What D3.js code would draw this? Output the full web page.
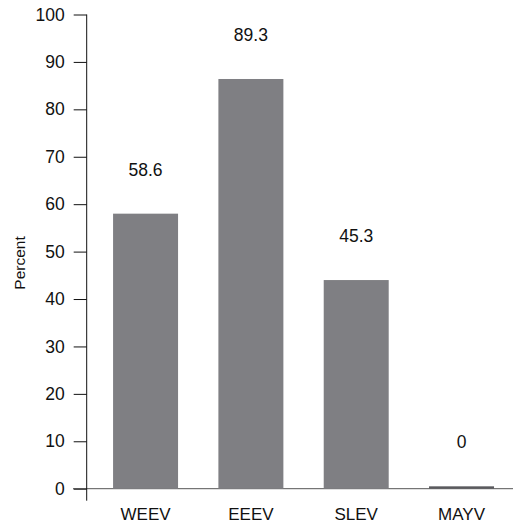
<!DOCTYPE html>
<html><head><meta charset="utf-8">
<script src="https://cdn.jsdelivr.net/npm/d3@7"></script>
<style>body{margin:0;background:#fff}text{font-family:"Liberation Sans",Arial,sans-serif;fill:#111}</style>
</head><body><svg id="c" width="513" height="524"></svg>
<script>
const categories = ["WEEV", "EEEV", "SLEV", "MAYV"];
const barValues = [58.0, 86.4, 44.0, 0.5];
const labelTexts = ["58.6", "89.3", "45.3", "0"];
const yTicks = [0, 10, 20, 30, 40, 50, 60, 70, 80, 90, 100];

const svg = d3.select("#c");
const y = d3.scaleLinear().domain([0, 100]).range([488.7, 14.5]);
const x = d3.scaleBand().domain(categories).range([92.9, 514.2]).paddingInner(0.383).paddingOuter(0.1915);
const axisX = 86.7;
const font = '"Liberation Sans",Arial,sans-serif';

// x baseline
svg.append("line").attr("x1", 73).attr("x2", 513).attr("y1", y(0)).attr("y2", y(0))
  .attr("stroke", "#555").attr("stroke-width", 1);

// bars
svg.selectAll("rect.bar").data(categories).enter().append("rect")
  .attr("x", d => x(d)).attr("width", x.bandwidth())
  .attr("y", (d, i) => y(barValues[i])).attr("height", (d, i) => y(0) - y(barValues[i]))
  .attr("fill", (d, i) => barValues[i] < 1 ? "#5a5a5e" : "#7f7f83");

// y axis
const ga = svg.append("g").attr("transform", `translate(${axisX},0)`)
  .call(d3.axisLeft(y).tickValues(yTicks).tickSize(13).tickPadding(9).tickSizeOuter(0));
ga.select(".domain").remove();
ga.selectAll("line").attr("stroke", "#111");
ga.selectAll("text").attr("font-size", 17.5).attr("fill", "#111").style("font-family", font);
svg.append("line").attr("x1", axisX).attr("x2", axisX).attr("y1", y(100)).attr("y2", y(0) + 12)
  .attr("stroke", "#111");

// category labels
svg.selectAll("text.cat").data(categories).enter().append("text")
  .attr("x", d => x(d) + x.bandwidth() / 2).attr("y", 520)
  .attr("text-anchor", "middle").attr("font-size", 17).text(d => d);

// value labels
svg.selectAll("text.val").data(categories).enter().append("text")
  .attr("x", d => x(d) + x.bandwidth() / 2).attr("y", (d, i) => y(barValues[i]) - 38)
  .attr("text-anchor", "middle").attr("font-size", 17.5).text((d, i) => labelTexts[i]);

// y label
svg.append("text").attr("transform", "translate(25,263) rotate(-90)")
  .attr("text-anchor", "middle").attr("font-size", 15.5).text("Percent");
</script></body></html>
